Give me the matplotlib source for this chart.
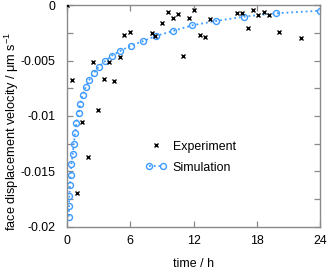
from matplotlib import pyplot as plt
from matplotlib.ticker import FixedLocator, MultipleLocator
from matplotlib.legend_handler import HandlerLine2D

# experiment (time in h, velocity in um/s)
exp_t = [0.0, 0.47, 1.0, 1.48, 1.98, 2.52, 2.97, 3.51, 4.04, 4.51, 5.05, 5.46,
         6.0, 8.03, 8.4, 9.03, 9.54, 10.05, 10.55, 11.05, 11.56, 12.07, 12.57,
         13.08, 13.58, 16.08, 16.55, 17.12, 17.6, 18.1, 18.64, 19.12, 20.12, 22.15]
exp_v = [0.0, -0.00675, -0.01694, -0.01052, -0.01372, -0.0051, -0.00947, -0.00666,
         -0.0051, -0.00682, -0.0047, -0.00271, -0.00239, -0.00253, -0.00275,
         -0.00157, -0.0006, -0.00118, -0.00079, -0.00458, -0.00112, -0.00042,
         -0.00266, -0.00284, -0.00124, -0.0007, -0.00068, -0.00205, -0.00042,
         -0.00085, -0.00058, -0.00085, -0.00241, -0.00298]

# simulation
sim_t = [0.19, 0.22, 0.25, 0.31, 0.38, 0.44, 0.57, 0.67, 0.79, 0.91, 1.12, 1.29,
         1.52, 1.80, 2.14, 2.59, 3.03, 3.63, 4.27, 5.05, 6.07, 7.20, 8.41, 10.05,
         11.88, 14.12, 16.74, 19.81, 23.96]
sim_v = [-0.01911, -0.01815, -0.01720, -0.01623, -0.01532, -0.01439, -0.01344,
         -0.01251, -0.01157, -0.01067, -0.00976, -0.00890, -0.00811, -0.00739,
         -0.00675, -0.00609, -0.00555, -0.00506, -0.00456, -0.00413, -0.00365,
         -0.00325, -0.00278, -0.00232, -0.00181, -0.00142, -0.00103, -0.00072,
         -0.00049]

x_ticks = [0, 6, 12, 18, 24]
y_ticks = [0, -0.005, -0.01, -0.015, -0.02]
y_tick_labels = ["0", "-0.005", "-0.01", "-0.015", "-0.02"]

blue = "#3d9bff"
grey = "#8a8a8a"
fs = 8.9

plt.rcParams['font.family'] = ['Liberation Sans', 'DejaVu Sans']
plt.rcParams['mathtext.fontset'] = 'custom'
plt.rcParams['mathtext.rm'] = 'Liberation Sans'
fig = plt.figure(figsize=(3.29, 2.71), dpi=100)
ax = fig.add_axes([0.2027, 0.1642, 0.7709, 0.8162])

ax.plot(exp_t, exp_v, linestyle='none', marker='x', color='black',
        markersize=3.3, markeredgewidth=1.0, label='Experiment', zorder=3)
ax.plot(sim_t, sim_v, linestyle=':', linewidth=1.3, color=blue, marker='o',
        markersize=4.3, markerfacecolor='none', markeredgecolor=blue,
        markeredgewidth=1.0, label='Simulation', zorder=2)

ax.set_xlim(0, 24)
ax.set_ylim(-0.02, 0)
ax.set_xticks(x_ticks)
ax.set_xticklabels([str(t) for t in x_ticks])
ax.yaxis.set_major_locator(FixedLocator(y_ticks))
ax.set_yticklabels(y_tick_labels)
ax.yaxis.set_minor_locator(MultipleLocator(0.0025))

for spine in ax.spines.values():
    spine.set_color(grey)
    spine.set_linewidth(1.0)
ax.tick_params(which='both', direction='in', top=True, right=True, color=grey,
               length=4.5, width=0.9, labelsize=fs, labelcolor='black')
ax.tick_params(axis='x', pad=6)
ax.tick_params(axis='y', pad=8)

ax.set_xlabel('time / h', fontsize=fs, labelpad=8)
ax.set_ylabel('face displacement velocity / μm s$^{\\mathregular{-1}}$',
              fontsize=9.2)
ax.yaxis.set_label_coords(-0.182, 0.43)

h, l = ax.get_legend_handles_labels()
ax.legend(h, l, loc='upper left', bbox_to_anchor=(0.308, 0.388), frameon=False,
          fontsize=fs, borderaxespad=0, borderpad=0, handlelength=1.8,
          handletextpad=0.45, labelspacing=0.72,
          handler_map={h[0]: HandlerLine2D(numpoints=1),
                       h[1]: HandlerLine2D(numpoints=2)})

fig.savefig('out.png', dpi=100)
